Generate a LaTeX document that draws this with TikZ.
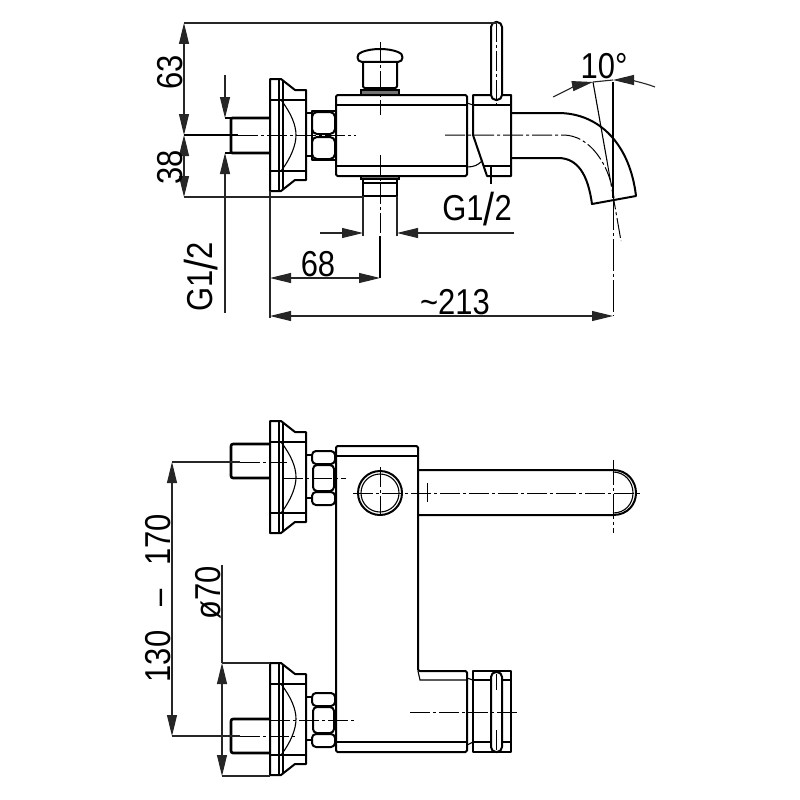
\documentclass[tikz,border=0pt]{standalone}
\usepackage{fontspec}
\setmainfont[FakeStretch=0.86]{Liberation Sans}
\usetikzlibrary{arrows.meta}
\newcommand{\tallslash}{\smash{\raisebox{-5pt}{\fontsize{46}{46}\selectfont/}}}
\tikzset{
  heavy/.style={line width=2pt,line join=round},
  stemline/.style={line width=2.6pt,line join=round},
  thin line/.style={line width=1.1pt},
  dim/.style={line width=1.1pt,black!85},
  axis/.style={line width=1pt,dash pattern=on 20pt off 3pt on 3pt off 3pt},
  tip/.style={-{Triangle[length=21pt,width=10pt]}},
  tips/.style={{Triangle[length=21pt,width=10pt]}-{Triangle[length=21pt,width=10pt]}},
  label/.style={inner sep=0pt,font=\fontsize{36}{38}\selectfont},
  pics/flangeunit/.style={code={
    \draw[heavy] (270,-56) -- (281,-56) -- (295,-45) -- (306,-45) -- (306,45) -- (295,45) -- (281,56) -- (270,56) -- cycle;
    \draw[thin line] (270,-35) -- (306,-35) (270,36) -- (306,36) (283,-54) -- (283,54) (279,-56) -- (279,56);
    \draw[thin line] (281,-35) .. controls (291,-22) and (296,-10) .. (296,0) .. controls (296,10) and (291,23) .. (281,36);
    \draw[heavy] (306,-22) -- (312,-22) (306,21) -- (312,21);
  }}
}
\begin{document}
\begin{tikzpicture}[x=1pt,y=-1pt]
\useasboundingbox (0,0) rectangle (800,800);
\fill[white] (0,0) rectangle (800,800);

% ---------- side view ----------
\pic at (0,135) {flangeunit};
\draw[stemline,rounded corners=1pt] (270,118) -- (231,118) -- (231,153) -- (270,153);
\draw[thin line] (225,118) -- (231,118) (225,153) -- (231,153);
\draw[heavy] (312,111) rectangle (336,160);
\draw[heavy,rounded corners=5pt] (312,112) rectangle (335,134);
\draw[heavy,rounded corners=5pt] (312,137) rectangle (335,159);
\draw[heavy,rounded corners=1.5pt] (467,95) -- (336,95) -- (336,176) -- (467,176) -- cycle;
\draw[thin line] (336,105) -- (467,105) (336,166) -- (467,166);
% knob
\draw[heavy] (362,62) .. controls (356,62) and (356,53) .. (362,52) .. controls (372,48) and (388,48) .. (398,52) .. controls (404,53) and (404,62) .. (398,62) -- cycle;
\draw[heavy,rounded corners=2pt] (363,62) -- (363,88) -- (397,88) -- (397,62);
\draw[line width=1.2pt,fill=black!55] (361,90) rectangle (399,95);
% lower connection
\draw[line width=1.2pt,fill=black!55] (361,176) rectangle (399,179);
\draw[heavy] (363,179) -- (363,196) -- (397,196) -- (397,179);
\draw[thin line] (363,183) -- (397,183);
\draw[dim] (363,196) -- (363,236) (397,196) -- (397,236);
% diverter
\draw[heavy] (473,135) -- (473,95) -- (511,95) -- (511,176) -- (487,176) -- cycle;
\draw[thin line] (473,105) -- (511,105) (484,166) -- (511,166);
\draw[thin line] (467,103) -- (473,105) (467,167) .. controls (474,167) and (478,165) .. (482,161);
\draw[heavy,fill=white,rounded corners=5pt] (491,100) -- (491,22) -- (502,22) -- (502,100) -- cycle;
% spout
\draw[heavy] (511,113) -- (558,113) .. controls (600,113) and (630,145) .. (636,196) -- (592,204) .. controls (588,175) and (578,158) .. (558,158) -- (511,158);
% axes
\draw[thin line] (184,135) -- (238,135);
\draw[axis] (238,135) -- (356,135);
\draw[axis] (445,135) -- (563,135) .. controls (590,135) and (610,165) .. (614,198);
\draw[axis] (380,42) -- (380,115);
\draw[axis] (380,155) -- (380,236);
\draw[thin line] (380,236) -- (380,278);
\draw[axis] (496,22) -- (496,108);
\draw[thin line] (491,166) -- (491,184);
\draw[thin line] (593,82) -- (607,161);
\draw[axis] (607,161) -- (621,241);
\draw[thin line] (613,82) -- (613,198);
\draw[line width=1pt,dash pattern=on 32pt off 3pt on 3pt off 3pt] (613,198) -- (613,316);
% dimensions
\draw[dim] (184,23) -- (497,23) (184,197) -- (363,197);
\draw[dim,tip] (184,79) -- (184,23);
\draw[dim,tip] (184,79) -- (184,135);
\draw[dim,tip] (184,166) -- (184,135);
\draw[dim,tip] (184,166) -- (184,197);
\draw[dim,tip] (225,75) -- (225,118);
\draw[dim,tip] (225,313) -- (225,153);
\draw[dim] (270,191) -- (270,318);
\draw[dim,tips] (270,278) -- (380,278);
\draw[dim,tips] (270,316) -- (613,316);
\draw[dim,tip] (320,233) -- (363,233);
\draw[dim,tip] (514,233) -- (397,233);
\draw[dim,tip] (553,97) .. controls (565,91) and (578,85) .. (593,82);
\draw[dim,tip] (655,87) .. controls (642,82) and (628,80) .. (613,80);
\draw[dim] (593,82) -- (613,80);
\node[label,rotate=90] (t63) at (170,72) {63};
\node[label,rotate=90] (t38) at (170,167) {38};
\node[label,rotate=90] (tg1) at (200,277) {G1\tallslash 2};
\node[label] (tg2) at (477,208) {G1\tallslash 2};
\node[label] (t68) at (318,264) {68};
\node[label] (t213) at (455,302) {\char"007E 213};
\node[label] (t10) at (604,66) {10°};

% ---------- front view, upper inlet ----------
\pic at (0,477) {flangeunit};
\draw[stemline,rounded corners=2pt] (270,444) -- (231,444) -- (231,478) -- (270,478);
\draw[heavy,rounded corners=4pt] (312,451) rectangle (335,464);
\draw[heavy,rounded corners=4pt] (313,465) rectangle (334,491);
\draw[heavy,rounded corners=4pt] (312,492) rectangle (335,505);
% ---------- front view, lower inlet ----------
\pic at (0,719) {flangeunit};
\draw[stemline,rounded corners=2pt] (270,719) -- (231,719) -- (231,753) -- (270,753);
\draw[heavy,rounded corners=4pt] (312,693) rectangle (335,706);
\draw[heavy,rounded corners=4pt] (313,707) rectangle (334,733);
\draw[heavy,rounded corners=4pt] (312,734) rectangle (335,747);
% body
\draw[heavy,rounded corners=1.5pt] (336,446) -- (418,446) -- (418,671) -- (467,671) -- (467,752) -- (336,752) -- cycle;
\draw[thin line] (336,456) -- (418,456);
\draw[thin line] (418,671) -- (420,680) -- (467,680);
\draw[thin line] (336,742) -- (467,742);
\draw[heavy] (473,671) rectangle (511,752);
\draw[thin line] (473,680) -- (511,680) (473,742) -- (511,742);
\draw[thin line] (467,678) -- (473,680) (467,745) -- (473,742);
\draw[heavy,fill=white,rounded corners=5pt] (491,672) rectangle (502,752);
% handle
\draw[heavy] (418,470) -- (613,470) .. controls (628,470) and (636,482) .. (636,493) .. controls (636,504) and (628,515) .. (613,515) -- (418,515);
\draw[thin line] (613,472) .. controls (625,472) and (633,482) .. (633,493) .. controls (633,504) and (625,513) .. (613,513);
\draw[heavy] (380,493) circle[radius=22pt];
\draw[thin line] (380,493) circle[radius=19pt];
% axes
\draw[axis] (353,493) -- (640,493);
\draw[axis] (380,467) -- (380,518);
\draw[axis] (427,483) -- (427,502);
\draw[line width=1pt,dash pattern=on 25pt off 3pt on 3pt off 3pt] (613,460) -- (613,533);
\draw[axis] (410,712) -- (517,712);
\draw[axis] (496,674) -- (496,690);
\draw[axis] (496,730) -- (496,750);
\draw[axis] (283,478) -- (346,478);
\draw[axis] (270,720) -- (356,720);
% dimensions
\draw[dim] (172,462) -- (240,462);
\draw[axis] (240,462) -- (287,462);
\draw[dim] (172,736) -- (240,736);
\draw[axis] (240,736) -- (297,736);
\draw[dim,tip] (172,600) -- (172,462);
\draw[dim,tip] (172,600) -- (172,736);
\draw[dim] (222,663) -- (270,663) (222,776) -- (270,776) (222,565) -- (222,663);
\draw[dim,tips] (222,663) -- (222,776);
\node[label,rotate=90] (t130) at (158,598) {130\hspace{24pt}--\hspace{24pt}170};
\node[label,rotate=90] (tphi) at (208,593) {ø70};
\end{tikzpicture}
\end{document}
